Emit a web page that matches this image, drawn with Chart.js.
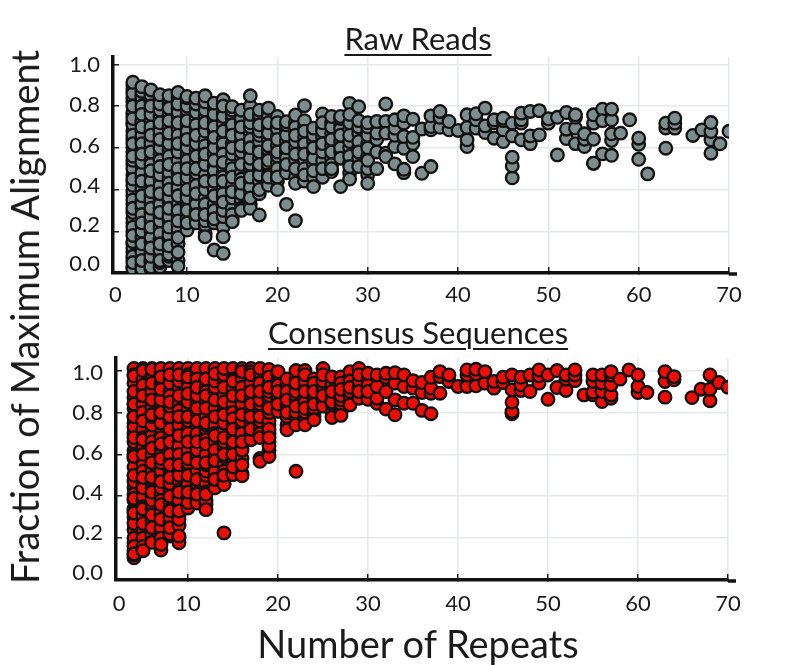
<!DOCTYPE html>
<html>
<head>
<meta charset="utf-8">
<title>Alignment vs repeats</title>
<script src="https://cdn.jsdelivr.net/npm/chart.js@4"></script>
<style>
  body { margin: 0; background: #fff; font-family: Lato, sans-serif; color: #1a1a1a; }
  #page { position: relative; width: 801px; height: 665px; overflow: hidden; }
  canvas { position: absolute; left: 0; }
  .label { position: absolute; white-space: nowrap; }
  .panelTitle { left: 118px; width: 600px; text-align: center; font-size: 31px; line-height: 34px; text-decoration: underline; text-decoration-thickness: 2px; text-underline-offset: 4px; }
</style>
</head>
<body>
<div id="page">
  <canvas id="rawChart" width="801" height="310" style="top:0;width:801px;height:310px"></canvas>
  <canvas id="consensusChart" width="801" height="355" style="top:310px;width:801px;height:355px"></canvas>
  <div class="label panelTitle" style="top:21px">Raw Reads</div>
  <div class="label panelTitle" style="top:315px">Consensus Sequences</div>
  <div class="label" id="yTitle" style="left:24px;top:317px;font-size:38px;line-height:38px;transform:translate(-50%,-50%) rotate(-90deg)">Fraction of Maximum Alignment</div>
  <div class="label" style="left:418px;top:622px;font-size:38px;line-height:42px;transform:translateX(-50%)">Number of Repeats</div>
</div>
<script>
// Etiquetas dos eixos (o "0" fica deslocado e os rotulos de y nao seguem a grade no original)
const rawXTicks = [2.05, 10, 20, 30, 40, 50, 60, 70];
const consensusXTicks = [2.35, 10, 20, 30, 40, 50, 60, 70];
const xTickLabels = ['0', '10', '20', '30', '40', '50', '60', '70'];
const yGridLines = [0.2, 0.4, 0.6, 0.8, 1.0];
const rawYLabelAt = [0.043, 0.23, 0.417, 0.608, 0.805, 0.997];
const consensusYLabelAt = [0.033, 0.225, 0.416, 0.607, 0.798, 0.989];
const yTickLabels = ['0.0', '0.2', '0.4', '0.6', '0.8', '1.0'];

// Raw Reads: repeticoes e valores lidos por coluna
const rawRepeats = [4, 5, 6, 7, 8, 9, 10, 11, 12, 13, 14, 15, 16, 17, 18, 19, 20, 21, 22, 23, 24, 25, 26, 27, 28, 29, 30, 31, 32, 33, 34, 35, 36, 37, 38, 39, 40, 41, 42, 43, 44, 45, 46, 47, 48, 49, 50, 51, 52, 53, 54, 55, 56, 57, 58, 59, 60, 61, 63, 64, 66, 67, 68, 69, 70];
const rawFractions = [
  [.10, .20, .33, .47, .58, .64, .72, .82, .90, .24, .37, .52, .76, .03, .07, .14, .44, .02, .39, .68, .26, .84, .12, .50, .71, .35, .08, .77, .60, .22, .42, .15, .54, .66, .29, .88, .05, .74, .45, .86, .18, .56, .80, .31, .62, .914],
  [.01, .04, .08, .17, .23, .31, .35, .42, .46, .51, .55, .64, .68, .72, .78, .82, .85, .12, .48, .73, .10, .84, .33, .59, .02, .80, .20, .66, .40, .87, .28, .53, .14, .76, .44, .62, .06, .37, .24, .70, .57, .893],
  [.02, .05, .06, .15, .20, .25, .29, .33, .37, .42, .47, .54, .60, .64, .68, .73, .78, .84, .10, .35, .70, .03, .82, .52, .17, .62, .44, .85, .27, .76, .08, .58, .39, .12, .66, .22, .49, .31, .80, .877],
  [.03, .05, .08, .16, .22, .27, .31, .35, .40, .45, .49, .57, .62, .66, .70, .75, .79, .83, .60, .11, .78, .42, .25, .84, .54, .06, .68, .33, .19, .72, .47, .14, .38, .64, .81, .29, .51, .854],
  [.06, .08, .11, .16, .20, .25, .29, .34, .38, .46, .50, .54, .59, .65, .70, .76, .81, .27, .73, .48, .09, .62, .83, .36, .18, .56, .43, .79, .13, .67, .22, .52, .31, .85, .40],
  [.06, .14, .19, .23, .28, .33, .39, .43, .48, .54, .60, .64, .69, .75, .79, .84, .58, .21, .77, .41, .10, .66, .30, .86, .50, .17, .72, .37, .25, .62, .033, .81, .45, .865],
  [.22, .28, .32, .34, .38, .43, .48, .52, .57, .62, .66, .71, .76, .78, .82, .46, .68, .26, .80, .54, .36, .73, .206, .60, .40, .30, .84, .50, .64, .24, .846],
  [.26, .30, .35, .40, .45, .48, .53, .59, .64, .69, .74, .79, .83, .33, .77, .56, .42, .24, .71, .62, .28, .50, .81, .38, .66, .838],
  [.19, .23, .27, .31, .36, .42, .47, .55, .60, .64, .70, .75, .80, .61, .40, .25, .78, .52, .174, .68, .33, .57, .44, .72, .28, .82, .849],
  [.24, .28, .33, .40, .47, .51, .57, .62, .68, .72, .74, .78, .49, .70, .11, .30, .60, .79, .37, .65, .26, .44, .76, .54, .814],
  [.22, .27, .32, .36, .41, .48, .51, .60, .64, .71, .77, .81, .38, .62, .094, .75, .46, .30, .57, .174, .83, .44, .68, .80, .34, .53],
  [.26, .31, .36, .42, .48, .53, .57, .62, .68, .74, .76, .50, .71, .28, .60, .39, .78, .246, .46, .66, .797],
  [.33, .35, .40, .48, .55, .60, .63, .68, .72, .76, .31, .58, .74, .45, .66, .38, .52, .78, .30, .70, .43, .61],
  [.33, .39, .44, .50, .52, .58, .62, .67, .70, .74, .41, .64, .31, .55, .72, .36, .46, .60, .80, .849, .76],
  [.38, .44, .50, .55, .60, .63, .66, .74, .47, .68, .278, .58, .76, .40, .52, .71, .78],
  [.44, .50, .52, .57, .59, .64, .70, .77, .42, .61, .75, .47, .54, .67, .79, .46, .72],
  [.44, .48, .53, .56, .61, .66, .70, .40, .58, .69, .50, .75, .46, .64, .72],
  [.50, .56, .58, .63, .68, .48, .66, .55, .329, .71, .60, .52, .725],
  [.46, .54, .60, .68, .72, .43, .57, .70, .251, .63, .50, .757, .66],
  [.54, .60, .65, .70, .50, .62, .73, .44, .802, .57, .68, .47],
  [.46, .52, .58, .63, .68, .414, .55, .66, .60, .694, .49],
  [.54, .60, .65, .70, .459, .58, .68, .62, .50, .762, .72],
  [.55, .61, .67, .72, .486, .52, .64, .70, .58, .75, .50],
  [.58, .63, .71, .414, .60, .69, .55, .74, .75, .66],
  [.48, .53, .60, .63, .69, .45, .56, .66, .72, .813, .51, .76],
  [.55, .60, .67, .51, .63, .70, .58, .797, .73],
  [.47, .56, .62, .68, .43, .50, .60, .66, .70, .54, .72],
  [.50, .58, .64, .67, .726],
  [.574, .558, .726, .81, .67],
  [.523, .606, .66, .694, .734],
  [.481, .497, .598, .654, .718, .753],
  [.558, .62, .65, .737],
  [.478, .69],
  [.51, .686, .702, .753],
  [.698, .746, .774],
  [.686, .726],
  [.683],
  [.606, .638, .698, .758],
  [.694, .734, .763],
  [.673, .705, .79],
  [.646, .72, .734],
  [.63, .686, .73, .742],
  [.456, .513, .555, .657, .718],
  [.638, .718, .734, .766],
  [.62, .657, .774],
  [.662, .778],
  [.718, .739],
  [.566, .746],
  [.644, .689, .769],
  [.62, .694, .746, .758],
  [.606, .641, .667],
  [.526, .526, .641, .718, .758],
  [.571, .785, .73],
  [.564, .635, .667, .734, .785],
  [.67],
  [.734],
  [.545, .617, .646],
  [.475],
  [.598, .695, .718],
  [.694, .718, .742],
  [.659],
  [.686],
  [.574, .638, .678, .721],
  [.619],
  [.679]
];

// Consensus Sequences: repeticoes e valores lidos por coluna
const consensusRepeats = [4, 5, 6, 7, 8, 9, 10, 11, 12, 13, 14, 15, 16, 17, 18, 19, 20, 21, 22, 23, 24, 25, 26, 27, 28, 29, 30, 31, 32, 33, 34, 35, 36, 37, 38, 39, 40, 41, 42, 43, 44, 45, 46, 47, 48, 49, 50, 51, 52, 53, 54, 55, 56, 57, 58, 59, 60, 61, 63, 64, 66, 67, 68, 69, 70];
const consensusFractions = [
  [1.01, .106, .62, .30, .87, .18, .50, .75, .38, .14, .94, .58, .24, .70, .44, .82, .12, .34, .66, .27, .54, .90, .41, .78, .20, .98, .47, .60, .33, .73, .16, .84, .125, .32, .39, .50, .59, .68, .78, .84, .975],
  [.22, .32, .38, .43, .46, .56, .62, .72, .78, .84, .91, .96, 1.01, .143, .55, .84, .24, .72, .40, .93, .30, .64, .20, .80, .48, .35, .88, .16, .60, .44, .76, .27, .52, .68, .34, .14, .49, .67, .76, .88, 1.0],
  [.21, .34, .46, .54, .58, .64, .72, .80, .84, .88, .92, .98, 1.01, .194, .69, .44, .96, .28, .60, .82, .36, .74, .22, .52, .90, .31, .66, .40, .78, .18, .48, .86, .25, .56, .38, .42, .49, .63, .79, .94, 1.005],
  [.23, .31, .41, .45, .50, .54, .62, .70, .78, .84, .88, .94, .99, 1.01, .143, .52, .80, .33, .68, .25, .92, .44, .60, .20, .75, .38, .86, .29, .56, .47, .97, .17, .36, .58, .65, .75, .80, .91],
  [.28, .37, .43, .47, .57, .62, .69, .76, .81, .90, .96, 1.01, .21, .72, .46, .88, .34, .60, .26, .94, .52, .40, .78, .30, .66, .50, .22, .83, .25, .33, .49, .55, .72, .85, .98],
  [.20, .26, .31, .36, .40, .47, .52, .58, .62, .66, .72, .76, .83, .92, .95, 1.01, .178, .64, .38, .85, .29, .74, .50, .95, .43, .60, .33, .81, .21, .42, .55, .69, .78, .88, .98],
  [.36, .40, .44, .48, .54, .60, .68, .72, .76, .82, .87, .94, 1.01, .344, .78, .46, .92, .56, .37, .70, .85, .50, .62, .98, .42, .58, .66, .78, .89, .97],
  [.38, .43, .46, .52, .58, .60, .68, .74, .80, .84, .90, .94, .98, 1.01, .368, .62, .82, .48, .96, .70, .41, .56, .88, .76, .66, .48, .92],
  [.36, .38, .46, .50, .60, .70, .72, .78, .85, .92, 1.01, .336, .74, .52, .90, .60, .42, .82, .96, .67, .55, .65, .75, .88, .96, .56, .41],
  [.46, .50, .56, .60, .66, .72, .74, .82, .90, .92, 1.01, .44, .70, .52, .86, .62, .95, .48, .78, .57, .69, .48, .985],
  [.46, .48, .55, .63, .72, .76, .81, .88, .94, .98, 1.01, .225, .456, .66, .84, .52, .75, .92, .59, .68, .79, .50, .60, .85],
  [.51, .52, .58, .64, .68, .74, .82, .84, .90, .92, 1.01, .503, .72, .60, .88, .80, .96, .66, .54, .77, .60, .72, .95],
  [.51, .58, .63, .68, .73, .75, .81, .86, .90, .96, 1.01, .498, .70, .84, .62, .92, .76, .55, .66, .79, .88, .995],
  [.70, .74, .76, .80, .82, .86, .88, .92, .96, 1.01, .67, .78, .94, .84, .72, .90, .995, .98],
  [.58, .72, .74, .80, .82, .84, .88, .92, .96, .99, 1.01, .567, .70, .86, .76, .94, .68, .78, .90],
  [.62, .66, .70, .74, .76, .84, .86, .88, .94, 1.005, .59, .64, .72, .90, .80, .68, .97, .82, .92],
  [.82, .86, .92, .96, .88, .94, .805, .98, .88, .84, .93, .90, .995],
  [.74, .78, .82, .84, .88, .92, .94, .717, .80, .96, .90, .86],
  [.78, .80, .86, .88, .92, .96, .519, .741, 1.0, .83, .90, .94],
  [.76, .78, .80, .84, .88, .92, .741, .85, 1.0, .95, .90, .82, .98],
  [.78, .80, .82, .86, .92, .96, .765, .88, .94, .84, .90],
  [.84, .86, .92, .96, .83, 1.01, .90, .95, .88, .98],
  [.80, .84, .86, .88, .92, .94, .776, .93, .85, .97, .90],
  [.80, .84, .86, .90, .95, .786, .88, .97, .94, .91],
  [.85, .88, .93, .97, .836, .90, .995, .95, .92],
  [.88, .92, .95, .868, .90, 1.01, .98],
  [.88, .91, .96, .863, .932, .987, .90],
  [.844, .868, .924, .979],
  [.816, .90, .968, .987],
  [.789, .86, .94, .99],
  [.844, .924, .979],
  [.844, .916, .952],
  [.81, .895, .943],
  [.794, .892, .916, .968],
  [.892, .971, .995],
  [.948, .979],
  [.924],
  [.94, .924, .979, 1.003],
  [.927, .984, 1.006],
  [.94, .995],
  [.916, .948],
  [.943, .968],
  [.794, .805, .849, .908, .979],
  [.905, .932, .968],
  [.90, .979],
  [.94, .975, 1.003],
  [.863, .979],
  [.919, 1.0],
  [.905, .959, .979],
  [.952, .979, 1.003],
  [.884],
  [.884, .897, .948, .979],
  [.852, .90, .94, .979],
  [.868, .884, .932, .979, .995],
  [.959],
  [1.003],
  [.895, .924, .979],
  [.895],
  [.873, .948, .995],
  [.956, .971],
  [.871],
  [.911],
  [.856, .911, .979],
  [.943],
  [.921]
];

// junta as colunas em pontos {x, y}
function buildPoints(repeats, fractions) {
  return repeats.flatMap((r, i) => fractions[i].map(f => ({ x: r, y: f })));
}

// prolonga o eixo x alguns pixels depois do 70, como no original
const axisTail = {
  id: 'axisTail',
  afterDraw(chart) {
    const { ctx, chartArea } = chart;
    ctx.save();
    ctx.strokeStyle = '#111';
    ctx.lineWidth = 3.5;
    ctx.beginPath();
    ctx.moveTo(chartArea.right, chartArea.bottom + 1);
    ctx.lineTo(chartArea.right + 8, chartArea.bottom + 1);
    ctx.stroke();
    ctx.restore();
  }
};

function makePanel(id, cfg) {
  const tickFont = { family: 'Lato, sans-serif', size: 22 };
  const gridOpts = { color: '#e6e9e9', lineWidth: 1.5, tickLength: -6, tickColor: '#222', tickWidth: 1.5 };
  return new Chart(document.getElementById(id), {
    type: 'scatter',
    data: {
      datasets: [{
        data: cfg.points,
        backgroundColor: cfg.fill,
        borderColor: '#111',
        borderWidth: 2.3,
        pointRadius: 6.3,
        clip: 0
      }]
    },
    options: {
      responsive: false,
      animation: false,
      layout: { autoPadding: false, padding: cfg.padding },
      plugins: { legend: { display: false }, tooltip: { enabled: false } },
      scales: {
        x: {
          type: 'linear',
          min: cfg.xMin,
          max: 70,
          afterBuildTicks: s => { s.ticks = cfg.xTicks.map(v => ({ value: v })); },
          afterFit: s => { s.height = cfg.xHeight; },
          border: { color: '#111', width: 3.5 },
          // a marca deslocada do "0" nao tem linha de grade
          grid: {
            ...gridOpts,
            color: c => c.index === 0 ? 'transparent' : '#e6e9e9',
            tickColor: c => c.index === 0 ? 'transparent' : '#222'
          },
          ticks: {
            color: '#1a1a1a',
            font: tickFont,
            padding: cfg.xPad,
            maxRotation: 0,
            autoSkip: false,
            callback: (v, i) => xTickLabels[i]
          }
        },
        // eixo com a grade e a linha vertical, sem rotulos
        y: {
          min: 0,
          max: cfg.yMax,
          weight: 0,
          afterBuildTicks: s => { s.ticks = yGridLines.map(v => ({ value: v })); },
          afterFit: s => { s.width = 0; },
          border: { color: '#111', width: 3.5 },
          grid: gridOpts,
          ticks: { display: false }
        },
        // eixo so com os rotulos
        yLabels: {
          position: 'left',
          min: 0,
          max: cfg.yMax,
          weight: 1,
          afterBuildTicks: s => { s.ticks = cfg.yLabelAt.map(v => ({ value: v })); },
          afterFit: s => { s.width = cfg.yWidth; },
          border: { display: false },
          grid: { display: false, drawTicks: false },
          ticks: {
            color: '#1a1a1a',
            font: tickFont,
            padding: cfg.yPad,
            autoSkip: false,
            callback: (v, i) => yTickLabels[i]
          }
        }
      }
    },
    plugins: [axisTail]
  });
}

makePanel('rawChart', {
  points: buildPoints(rawRepeats, rawFractions),
  fill: '#7d8c8c',
  xTicks: rawXTicks,
  yLabelAt: rawYLabelAt,
  xMin: 1.8,
  yMax: 1.035,
  yWidth: 113,
  xHeight: 37,
  xPad: 15,
  yPad: 13,
  padding: { left: 0, right: 72, top: 57, bottom: 0 }
});

makePanel('consensusChart', {
  points: buildPoints(consensusRepeats, consensusFractions),
  fill: '#ee0d05',
  xTicks: consensusXTicks,
  yLabelAt: consensusYLabelAt,
  xMin: 2,
  yMax: 1.06,
  yWidth: 116,
  xHeight: 85,
  xPad: 17,
  yPad: 13,
  padding: { left: 0, right: 73, top: 48, bottom: 0 }
});
</script>
</body>
</html>
